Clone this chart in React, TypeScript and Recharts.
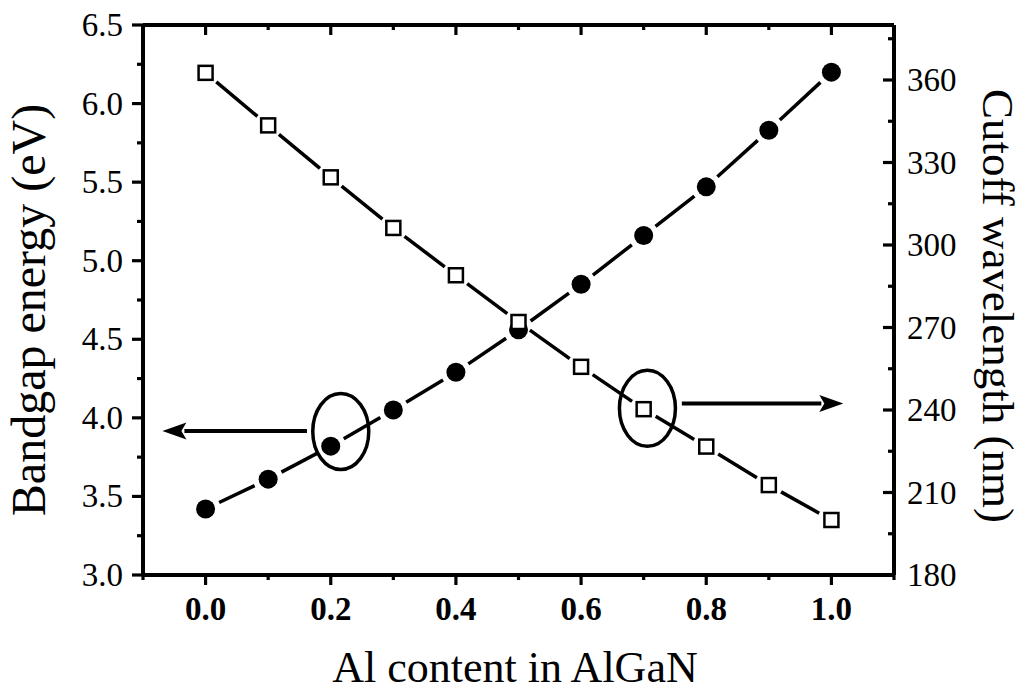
import React from "react";
import { ComposedChart, Line, XAxis, YAxis, ReferenceDot, ReferenceLine } from "recharts";

// Al mole fraction in AlxGa1-xN
const alContent = [0, 0.1, 0.2, 0.3, 0.4, 0.5, 0.6, 0.7, 0.8, 0.9, 1.0];
// bandgap energy (eV), filled circles, left axis
const bandgapEv = [3.42, 3.61, 3.82, 4.05, 4.29, 4.56, 4.85, 5.16, 5.47, 5.83, 6.2];
// cutoff wavelength (nm), open squares, right axis
const cutoffNm = [362.6, 343.5, 324.6, 306.2, 289.0, 272.0, 255.7, 240.3, 226.7, 212.7, 200.0];

const xTicks = [-0.1, 0, 0.1, 0.2, 0.3, 0.4, 0.5, 0.6, 0.7, 0.8, 0.9, 1.0, 1.1];
const xMajor = [0, 0.2, 0.4, 0.6, 0.8, 1.0];
const leftTicks = [3.0, 3.25, 3.5, 3.75, 4.0, 4.25, 4.5, 4.75, 5.0, 5.25, 5.5, 5.75, 6.0, 6.25, 6.5];
const leftMajor = [3.0, 3.5, 4.0, 4.5, 5.0, 5.5, 6.0, 6.5];
const rightTicks = [180, 195, 210, 225, 240, 255, 270, 285, 300, 315, 330, 345, 360, 375];
const rightMajor = [180, 210, 240, 270, 300, 330, 360];

const data = alContent.map((x, i) => ({ x, eg: bandgapEv[i], wl: cutoffNm[i] }));

const FONT = "'Liberation Serif', 'Times New Roman', Times, serif";
const W = 1024;
const H = 694;
const PLOT = { left: 143, right: 894, top: 25, bottom: 575 };
const AXIS_W = 4;

const isIn = (list: number[], v: number) => list.some((m) => Math.abs(m - v) < 1e-6);

function BottomTick(props: any) {
  const { payload } = props;
  const x = payload.coordinate;
  const major = isIn(xMajor, payload.value);
  return (
    <g>
      <line x1={x} x2={x} y1={PLOT.bottom} y2={PLOT.bottom + (major ? 10 : 5)} stroke="#000" strokeWidth={3.2} />
      {major && (
        <text x={x} y={620} textAnchor="middle" fontFamily={FONT} fontWeight="bold" fontSize={33} fill="#000">
          {payload.value.toFixed(1)}
        </text>
      )}
    </g>
  );
}

function TopTick(props: any) {
  const { payload } = props;
  const x = payload.coordinate;
  const major = isIn(xMajor, payload.value);
  return <line x1={x} x2={x} y1={PLOT.top} y2={PLOT.top + (major ? 10 : 5)} stroke="#000" strokeWidth={3.2} />;
}

function LeftTick(props: any) {
  const { payload } = props;
  const y = payload.coordinate;
  const major = isIn(leftMajor, payload.value);
  return (
    <g>
      <line x1={PLOT.left} x2={PLOT.left - (major ? 11 : 6)} y1={y} y2={y} stroke="#000" strokeWidth={3.2} />
      {major && (
        <text x={123} y={y + 11} textAnchor="end" fontFamily={FONT} fontSize={33} fill="#000">
          {payload.value.toFixed(1)}
        </text>
      )}
    </g>
  );
}

function RightTick(props: any) {
  const { payload } = props;
  const y = payload.coordinate;
  const major = isIn(rightMajor, payload.value);
  return (
    <g>
      <line x1={PLOT.right} x2={PLOT.right - (major ? 11 : 6)} y1={y} y2={y} stroke="#000" strokeWidth={3.2} />
      {major && (
        <text x={907} y={y + 11} textAnchor="start" fontFamily={FONT} fontSize={33} fill="#000">
          {payload.value}
        </text>
      )}
    </g>
  );
}

// axis titles ignore the props recharts passes to label elements
const XTitle = () => (
  <text x={515} y={682} textAnchor="middle" fontFamily={FONT} fontSize={44} fill="#000">
    Al content in AlGaN
  </text>
);

const LeftTitle = () => (
  <text
    x={28}
    y={310}
    transform="rotate(-90 28 310)"
    textAnchor="middle"
    dominantBaseline="central"
    fontFamily={FONT}
    fontSize={48}
    fill="#000"
  >
    Bandgap energy (eV)
  </text>
);

const RightTitle = () => (
  <text
    x={998}
    y={306}
    transform="rotate(90 998 306)"
    textAnchor="middle"
    dominantBaseline="central"
    fontFamily={FONT}
    fontSize={45}
    fill="#000"
  >
    Cutoff wavelength (nm)
  </text>
);

// line segment between two points, pulled back from both ends
function gapped(p: { x: number; y: number }, q: { x: number; y: number }, gap: number) {
  const dx = q.x - p.x;
  const dy = q.y - p.y;
  const len = Math.hypot(dx, dy) || 1;
  const ux = dx / len;
  const uy = dy / len;
  return { x1: p.x + ux * gap, y1: p.y + uy * gap, x2: q.x - ux * gap, y2: q.y - uy * gap };
}

function CircleDot(props: any) {
  const { cx, cy, index, points } = props;
  const next = points && points[index + 1];
  return (
    <g>
      {next && <line {...gapped({ x: cx, y: cy }, next, 15)} stroke="#000" strokeWidth={3.5} />}
      <circle cx={cx} cy={cy} r={9.5} fill="#000" />
    </g>
  );
}

function SquareDot(props: any) {
  const { cx, cy, index, points } = props;
  const next = points && points[index + 1];
  return (
    <g>
      {next && <line {...gapped({ x: cx, y: cy }, next, 14)} stroke="#000" strokeWidth={3.5} />}
      <rect x={cx - 7} y={cy - 7} width={14} height={14} fill="#fff" stroke="#000" strokeWidth={2.5} />
    </g>
  );
}

function Arrow(props: any) {
  const { x1, y1, x2, y2 } = props;
  const dir = x2 > x1 ? 1 : -1;
  const headLen = 24;
  const half = 8.5;
  const bx = x2 - dir * headLen;
  return (
    <g>
      <line x1={x1} y1={y1} x2={bx + dir * 2} y2={y2} stroke="#000" strokeWidth={4} />
      <polygon points={`${x2},${y2} ${bx},${y2 - half} ${bx + dir * 5},${y2} ${bx},${y2 + half}`} fill="#000" />
    </g>
  );
}

const Ring = (props: any) => (
  <ellipse cx={props.cx} cy={props.cy} rx={28} ry={38} fill="none" stroke="#000" strokeWidth={3.5} />
);

export default function App() {
  return (
    <div style={{ position: "absolute", left: 0, top: 0, width: W, height: H, background: "#fff" }}>
      <ComposedChart width={W} height={H} data={data} margin={{ top: 0, right: 0, bottom: 0, left: 0 }}>
        <XAxis
          dataKey="x"
          type="number"
          domain={[-0.1, 1.1]}
          ticks={xTicks}
          interval={0}
          height={H - PLOT.bottom}
          axisLine={{ stroke: "#000", strokeWidth: AXIS_W }}
          tickLine={false}
          tick={<BottomTick />}
          allowDataOverflow
          label={<XTitle />}
        />
        <XAxis
          xAxisId="top"
          orientation="top"
          dataKey="x"
          type="number"
          domain={[-0.1, 1.1]}
          ticks={xTicks}
          interval={0}
          height={PLOT.top}
          axisLine={{ stroke: "#000", strokeWidth: AXIS_W }}
          tickLine={false}
          tick={<TopTick />}
          allowDataOverflow
        />
        <YAxis
          yAxisId="left"
          type="number"
          domain={[3.0, 6.5]}
          ticks={leftTicks}
          interval={0}
          width={PLOT.left}
          axisLine={{ stroke: "#000", strokeWidth: AXIS_W }}
          tickLine={false}
          tick={<LeftTick />}
          allowDataOverflow
          label={<LeftTitle />}
        />
        <YAxis
          yAxisId="right"
          orientation="right"
          type="number"
          domain={[180, 380]}
          ticks={rightTicks}
          interval={0}
          width={W - PLOT.right}
          axisLine={{ stroke: "#000", strokeWidth: AXIS_W }}
          tickLine={false}
          tick={<RightTick />}
          allowDataOverflow
          label={<RightTitle />}
        />

        <Line
          yAxisId="left"
          dataKey="eg"
          stroke="none"
          isAnimationActive={false}
          activeDot={false}
          dot={(p: any) => <CircleDot key={`c${p.index}`} {...p} />}
        />
        <Line
          yAxisId="right"
          dataKey="wl"
          stroke="none"
          isAnimationActive={false}
          activeDot={false}
          dot={(p: any) => <SquareDot key={`s${p.index}`} {...p} />}
        />

        <ReferenceDot yAxisId="left" x={0.216} y={3.913} ifOverflow="visible" shape={Ring} />
        <ReferenceDot yAxisId="right" x={0.706} y={240.6} ifOverflow="visible" shape={Ring} />
        <ReferenceLine
          yAxisId="left"
          segment={[{ x: 0.162, y: 3.917 }, { x: -0.069, y: 3.917 }]}
          ifOverflow="visible"
          shape={Arrow}
        />
        <ReferenceLine
          yAxisId="right"
          segment={[{ x: 0.761, y: 242.4 }, { x: 1.019, y: 242.4 }]}
          ifOverflow="visible"
          shape={Arrow}
        />
      </ComposedChart>
    </div>
  );
}
